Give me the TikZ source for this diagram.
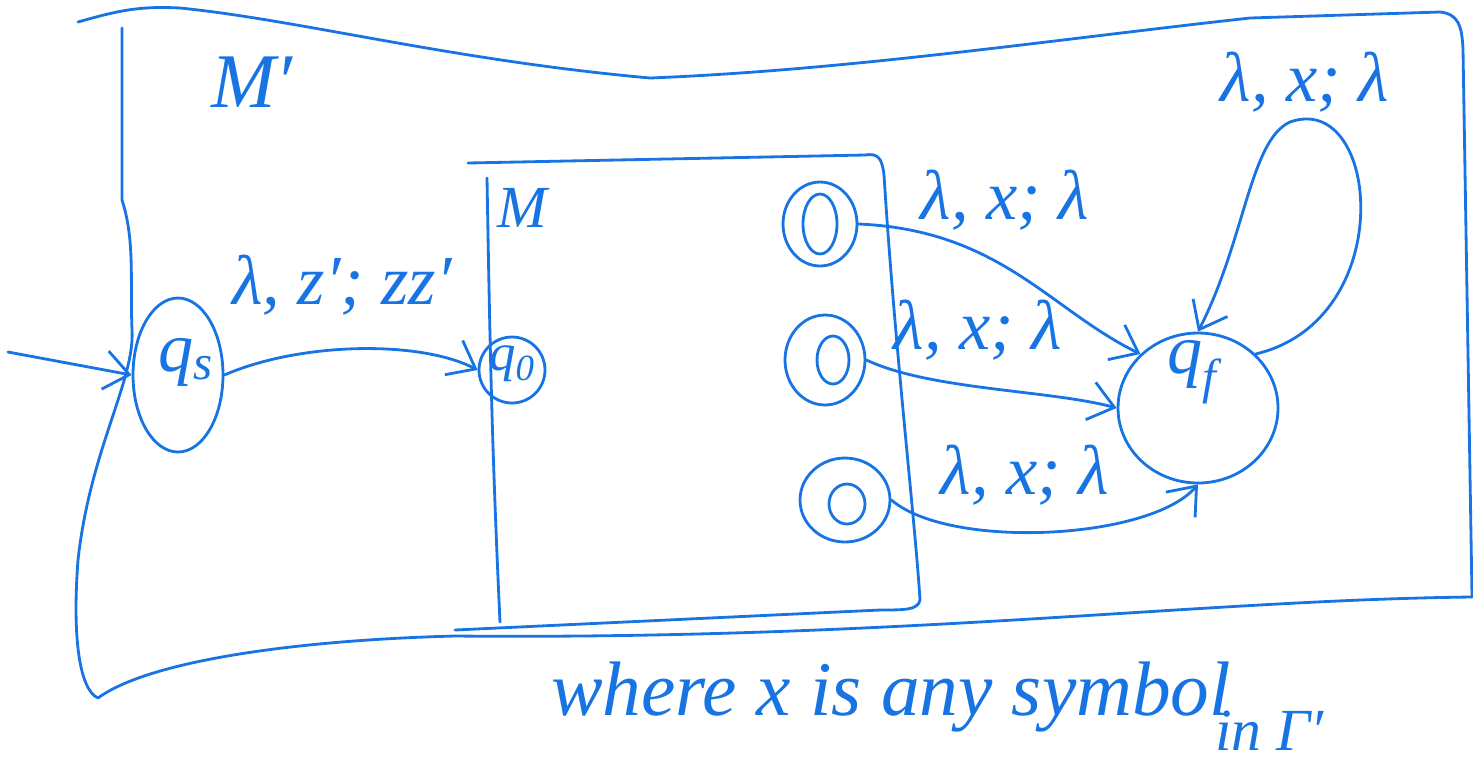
\documentclass[tikz,border=0pt]{standalone}
\usepackage{fontspec}
\setmainfont{Liberation Serif}
\usetikzlibrary{arrows.meta,shapes.geometric}
\definecolor{ink}{RGB}{24,116,226}
\begin{document}
\begin{tikzpicture}[x=0.02cm,y=-0.02cm,
  line width=1.6pt,
  ln/.style={draw=ink, line width=1.6pt, line cap=round, line join=round},
  state/.style={ellipse, draw=ink, line width=1.6pt, inner sep=0pt},
  arr/.style={ln, -{Straight Barb[length=14pt,width=22pt,line width=1.6pt]}},
  lbl/.style={font=\fontsize{40}{46}\selectfont\itshape, text=ink, inner sep=1pt},
  hand/.style={font=\fontsize{44}{50}\selectfont\itshape, text=ink, inner sep=1pt}]
\useasboundingbox (0,0) rectangle (1473,769);
% outer machine M'
\draw[ln] (78,22) .. controls (120,10) and (140,6) .. (180,8)
  .. controls (300,20) and (450,60) .. (650,78)
  .. controls (850,70) and (1050,40) .. (1250,18)
  -- (1440,12) .. controls (1458,14) and (1462,25) .. (1463,50)
  -- (1472,597)
  .. controls (1200,600) and (900,640) .. (455,636)
  .. controls (300,640) and (150,660) .. (98,698)
  .. controls (80,690) and (72,640) .. (78,560)
  .. controls (90,450) and (135,380) .. (132,330)
  .. controls (130,280) and (135,240) .. (122,200)
  -- (122,28);
\node[lbl, font=\fontsize{44}{48}\selectfont\itshape] (mp) at (252,82) {M′};
% inner machine M
\draw[ln] (468,163) -- (865,155) .. controls (878,153) and (882,158) .. (884,175)
  .. controls (895,350) and (915,520) .. (920,600) .. controls (918,610) and (905,610) .. (880,610)
  -- (455,630);
\draw[ln] (487,178) .. controls (490,350) and (492,450) .. (500,622);
\node[lbl, font=\fontsize{34}{38}\selectfont\itshape] (m) at (522,208) {M};
% states
\node[state, minimum width=1.8cm, minimum height=3.08cm] (qs) at (178,375) {};
\node[lbl] at (186,362) {q\textsubscript{s}};
\node[state, minimum width=1.32cm, minimum height=1.32cm] (q0) at (512,370) {};
\node[lbl, font=\fontsize{30}{34}\selectfont\itshape] at (512,364) {q\textsubscript{0}};
\node[state, minimum width=1.48cm, minimum height=1.68cm] (a1) at (820,224) {};
\draw[ln] (820,224) ellipse (17 and 30);
\node[state, minimum width=1.6cm, minimum height=1.8cm] (a2) at (825,360) {};
\draw[ln] (833,360) ellipse (16 and 24);
\node[state, minimum width=1.8cm, minimum height=1.68cm] (a3) at (845,500) {};
\draw[ln] (847,504) ellipse (18 and 20);
\node[state, minimum width=3.2cm, minimum height=3.0cm] (qf) at (1198,408) {};
\node[lbl] at (1192,372) {q\textsubscript{f}};
% start arrow
\coordinate (st) at (8,352);
\draw[arr] (st) -- (qs.west);
% transitions
\draw[arr] (qs.east) .. controls (300,342) and (420,340) .. (q0.west);
\node[lbl] (l0) at (342,285) {λ, z′; zz′};
\draw[arr] (a1.east) .. controls (1000,230) and (1050,310) .. (qf.north west);
\node[lbl] (l1) at (1005,200) {λ, x; λ};
\draw[arr] (a2.east) .. controls (930,390) and (1050,390) .. (qf.west);
\node[lbl] (l2) at (978,330) {λ, x; λ};
\draw[arr] (a3.east) .. controls (950,550) and (1150,540) .. (qf.south);
\node[lbl] (l3) at (1025,475) {λ, x; λ};
\draw[arr] (qf.north east) .. controls (1400,320) and (1380,90) .. (1290,122)
  .. controls (1250,140) and (1245,240) .. (qf.north);
\node[lbl] (l4) at (1305,82) {λ, x; λ};
% note
\node[hand, anchor=base west] (note) at (548,715) {where x is any symbol};
\node[hand, anchor=base west, font=\fontsize{34}{38}\selectfont\itshape] (note2) at (1212,750) {in Γ′};
\end{tikzpicture}
\end{document}
